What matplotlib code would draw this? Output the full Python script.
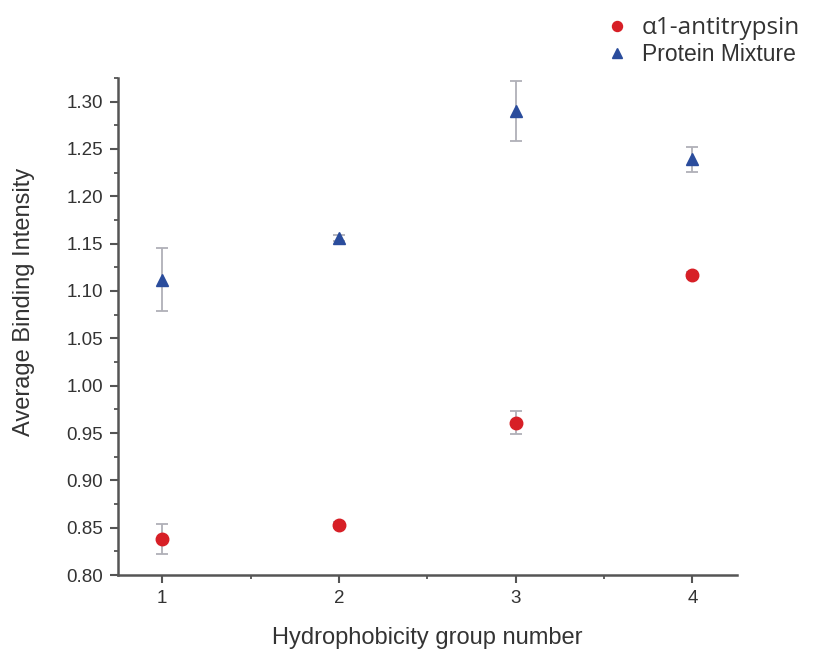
import matplotlib
matplotlib.use("Agg")
import matplotlib.pyplot as plt
from matplotlib.ticker import MultipleLocator, FormatStrFormatter

plt.rcParams['font.family'] = ['Liberation Sans', 'DejaVu Sans']

groups = [1, 2, 3, 4]
aat_mean = [0.838, 0.853, 0.961, 1.117]
aat_err = [0.016, 0.003, 0.012, 0.003]
mix_mean = [1.112, 1.156, 1.290, 1.239]
mix_err = [0.033, 0.003, 0.032, 0.013]

fig = plt.figure(figsize=(8.14, 6.53), dpi=100)
ax = fig.add_axes([0.145, 0.1194, 0.760, 0.7612])

err_kw = dict(ecolor='#b0b0b8', elinewidth=1.3, capsize=4, capthick=1.3, linestyle='none')
ax.errorbar(groups, aat_mean, yerr=aat_err, marker='o', ms=9, color='#d71f26',
            mec='#d71f26', label='α1-antitrypsin', **err_kw)
ax.errorbar(groups, mix_mean, yerr=mix_err, marker='^', ms=9, color='#2a4c9c',
            mec='#2a4c9c', label='Protein Mixture', **err_kw)

ax.set_xlim(0.75, 4.25)
ax.set_ylim(0.80, 1.325)
ax.xaxis.set_major_locator(MultipleLocator(1))
ax.xaxis.set_minor_locator(MultipleLocator(0.5))
ax.yaxis.set_major_locator(MultipleLocator(0.05))
ax.yaxis.set_minor_locator(MultipleLocator(0.025))
ax.yaxis.set_major_formatter(FormatStrFormatter('%.2f'))

for side in ('top', 'right'):
    ax.spines[side].set_visible(False)
for side in ('left', 'bottom'):
    ax.spines[side].set_color('#555555')
    ax.spines[side].set_linewidth(1.8)

ax.tick_params(which='major', direction='out', length=6, width=1.5, color='#555555',
               labelsize=13.5, labelcolor='#333333', pad=5)
ax.tick_params(which='minor', direction='out', length=3, width=1.3, color='#555555')

ax.set_xlabel('Hydrophobicity group number', fontsize=17, color='#333333', labelpad=14)
ax.set_ylabel('Average Binding Intensity', fontsize=17, color='#333333')
ax.yaxis.set_label_coords(-0.135, 0.55)

handles, labels = ax.get_legend_handles_labels()
handles = [h[0] for h in handles]
leg = fig.legend(handles, labels, loc='upper left', bbox_to_anchor=(0.718, 1.007),
                 frameon=False, fontsize=16.5, handletextpad=0.6, labelspacing=0.12,
                 handlelength=1.0, markerscale=0.8)
texts = leg.get_texts()
texts[0].set_fontfamily(['Open Sans', 'DejaVu Sans'])
texts[0].set_fontsize(17.5)
for t in texts:
    t.set_color('#333333')

fig.savefig('out.png', dpi=100, facecolor='white')
